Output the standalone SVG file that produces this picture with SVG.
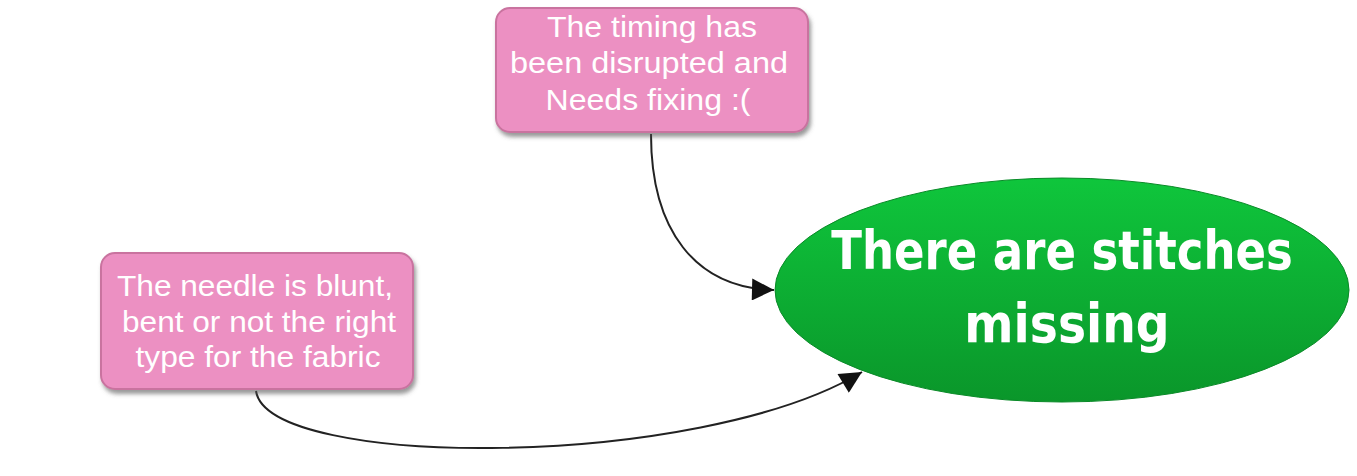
<svg xmlns="http://www.w3.org/2000/svg" width="1357" height="476" viewBox="0 0 1357 476">
<defs>
<linearGradient id="g" x1="0" y1="0" x2="0" y2="1">
<stop offset="0" stop-color="#0fc63c"/>
<stop offset="1" stop-color="#0a962a"/>
</linearGradient>
<filter id="sh" x="-10%" y="-10%" width="130%" height="130%">
<feDropShadow dx="2" dy="4" stdDeviation="2" flood-color="#555" flood-opacity="0.6"/>
</filter>
<marker id="ar" viewBox="0 0 10 10" refX="10" refY="5" markerWidth="28" markerHeight="22" markerUnits="userSpaceOnUse" orient="auto">
<path d="M0,0 L10,5 L0,10 z" fill="#111"/>
</marker>
<style>
.box{fill:#ec90c2;stroke:#c9739f;stroke-width:2;filter:url(#sh)}
.t{font-family:"Liberation Sans",Arial,sans-serif;font-size:29px;fill:#fff;text-anchor:middle}
.big{font-family:"DejaVu Sans",sans-serif;font-weight:bold;font-size:45px;fill:#fff;text-anchor:middle}
.c{fill:none;stroke:#222;stroke-width:2}
</style>
</defs>
<rect width="1357" height="476" fill="#fff"/>
<g id="connectors">
<path class="c" d="M651,134 C651,230 695,288 774,290" marker-end="url(#ar)"/>
<path class="c" d="M256,391 C268,470 700,470 862,372" marker-end="url(#ar)"/>
</g>
<g id="timing">
<rect class="box" x="496" y="8" width="312" height="124" rx="14"/>
<text class="t" x="652" y="37" textLength="210" lengthAdjust="spacingAndGlyphs">The timing has</text>
<text class="t" x="649" y="73" textLength="278" lengthAdjust="spacingAndGlyphs">been disrupted and</text>
<text class="t" x="648" y="110" textLength="205" lengthAdjust="spacingAndGlyphs">Needs fixing :(</text>
</g>
<g id="needle">
<rect class="box" x="101" y="253" width="312" height="136" rx="14"/>
<text class="t" x="255" y="296" textLength="276" lengthAdjust="spacingAndGlyphs">The needle is blunt,</text>
<text class="t" x="259" y="332" textLength="274" lengthAdjust="spacingAndGlyphs">bent or not the right</text>
<text class="t" x="258" y="367" textLength="245" lengthAdjust="spacingAndGlyphs">type for the fabric</text>
</g>
<g id="stitches">
<ellipse cx="1062" cy="290" rx="287" ry="112" fill="url(#g)" stroke="#0a8a28" stroke-width="1"/>
<text class="big" transform="translate(1062,269) scale(1,1.2)">There are stitches</text>
<text class="big" transform="translate(1067,342) scale(1.05,1.2)">missing</text>
</g>
</svg>
